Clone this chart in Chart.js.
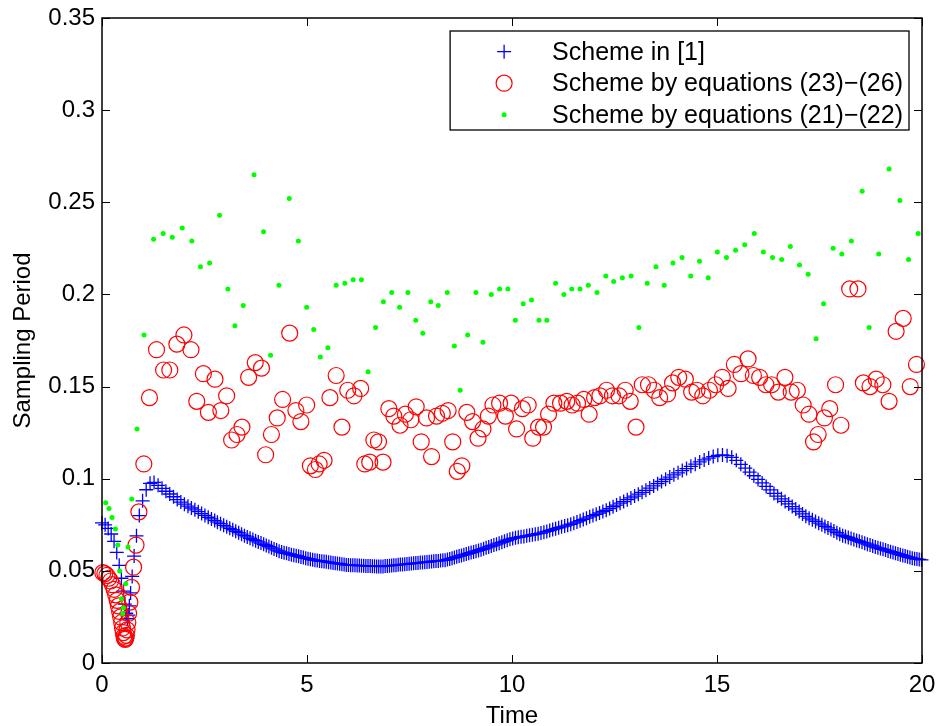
<!DOCTYPE html>
<html>
<head>
<meta charset="utf-8">
<script src="https://cdn.jsdelivr.net/npm/chart.js"></script>
<style>
  html, body { margin: 0; padding: 0; background: #fff; }
  #wrap { width: 937px; height: 726px; }
</style>
</head>
<body>
<div id="wrap"><canvas id="chart" width="937" height="726"></canvas></div>
<script>
// ─── DATA ────────────────────────────────────────────────────────────────
const seriesLabels = [
    'Scheme in [1]',
    'Scheme by equations (23)\u2212(26)',
    'Scheme by equations (21)\u2212(22)'
];
const xTicks = [0, 5, 10, 15, 20];
const xTickLabels = ['0', '5', '10', '15', '20'];
const yTicks = [0, 0.05, 0.1, 0.15, 0.2, 0.25, 0.3, 0.35];
const yTickLabels = ['0', '0.05', '0.1', '0.15', '0.2', '0.25', '0.3', '0.35'];

// Scheme in [1] (blue +)
const blueTime = [0,0.076,0.151,0.224,0.294,0.36,0.42,0.473,0.519,0.558,0.59,0.617,0.641,0.667,0.698,0.736,0.783,0.841,0.91,0.99,1.078,1.172,
    1.27,1.368,1.464,1.559,1.652,1.744,1.834,1.923,2.01,2.096,2.181,2.265,2.348,2.43,2.511,2.591,2.67,2.748,
    2.815,2.891,2.967,3.042,3.116,3.189,3.261,3.333,3.404,3.474,
    3.543,3.611,3.679,3.746,3.812,3.878,3.943,4.007,4.071,4.134,4.197,4.259,4.32,
    4.381,4.441,4.501,4.56,4.619,4.678,4.737,4.795,4.853,4.911,4.968,5.025,5.082,5.138,
    5.194,5.25,5.306,5.361,5.416,5.471,5.526,5.581,5.635,5.689,5.743,5.797,5.851,5.905,
    5.958,6.011,6.064,6.117,6.17,6.223,6.276,6.329,6.382,6.435,6.488,6.541,6.594,6.646,6.698,6.75,
    6.802,6.854,6.906,6.959,7.012,7.065,7.118,7.171,7.224,7.277,7.33,7.384,7.438,7.492,7.546,7.6,7.654,7.708,7.762,7.817,7.872,7.927,7.982,8.037,8.092,8.147,8.202,8.257,8.313,8.369,
    8.425,8.481,8.538,8.595,8.652,8.71,8.768,8.826,8.885,8.944,9.003,9.063,9.123,9.184,
    9.245,9.307,9.369,9.432,9.495,9.558,9.622,9.687,9.752,9.817,9.883,9.95,
    10.017,10.085,10.153,10.221,10.29,10.359,10.428,10.497,10.567,10.637,
    10.707,10.778,10.849,10.92,10.992,11.064,11.137,11.21,11.284,11.358,11.433,
    11.508,11.584,11.661,11.738,11.816,11.895,11.974,12.054,12.135,12.216,
    12.298,12.381,12.465,12.55,12.636,12.723,12.811,12.9,12.99,13.081,
    13.173,13.266,13.36,13.455,13.551,13.648,13.747,13.847,
    13.948,14.05,14.153,14.257,14.363,14.47,14.578,14.687,
    14.797,14.908,15.02,15.133,15.246,15.359,
    15.471,15.581,15.689,15.795,15.899,16.001,16.101,16.199,16.295,
    16.389,16.481,16.572,16.661,16.749,16.835,16.92,17.004,17.086,17.167,
    17.247,17.326,17.404,17.481,17.557,17.632,17.706,17.779,17.851,17.923,
    17.994,18.064,18.133,18.202,18.27,18.338,18.405,18.471,18.537,18.603,18.668,18.733,18.797,
    18.861,18.924,18.987,19.049,19.111,19.172,19.233,19.293,19.353,19.413,19.472,19.531,19.589,19.647,19.705,19.762,19.819,19.876,19.932,19.988];
const blueValue = [.076,.075,.073,.070,.066,.060,.053,.046,.039,.032,.027,.024,.026,.031,.038,.047,.058,.069,.080,.088,.094,.0975,
    .098,.0964,.0948,.0932,.0917,.0902,.0887,.0873,.0862,.0851,.0841,.0831,.0821,.0811,.0801,.0791,.0782,.0773,
    .0764,.0756,.0747,.0739,.0731,.0723,.0715,.0707,.0699,.0691,
    .0684,.0677,.0670,.0664,.0657,.0651,.0644,.0638,.0632,.0625,.0619,.0613,.0607,
    .0602,.0598,.0595,.0592,.0588,.0585,.0582,.0579,.0575,.0572,.0569,.0566,.0563,.0560,
    .0558,.0556,.0554,.0552,.0551,.0549,.0547,.0545,.0543,.0541,.0540,.0538,.0536,.0534,
    .0532,.0532,.0531,.0530,.0530,.0529,.0529,.0528,.0528,.0527,.0526,.0526,.0525,.0525,.0524,.0524,
    .0523,.0524,.0526,.0527,.0528,.0529,.0530,.0531,.0533,.0534,.0535,.0536,.0537,.0538,.0540,.0541,.0542,.0543,.0545,.0546,.0547,.0548,.0549,.0551,.0552,.0553,.0554,.0556,.0557,.0558,
    .0561,.0565,.0569,.0572,.0576,.0580,.0584,.0587,.0591,.0595,.0599,.0603,.0607,.0611,
    .0615,.0620,.0625,.0630,.0635,.0640,.0645,.0650,.0655,.0660,.0666,.0671,
    .0676,.0679,.0682,.0685,.0687,.0690,.0693,.0696,.0699,.0702,
    .0705,.0710,.0714,.0719,.0724,.0729,.0734,.0739,.0743,.0748,.0753,
    .0759,.0765,.0772,.0779,.0786,.0793,.0800,.0807,.0814,.0822,
    .0829,.0838,.0848,.0857,.0867,.0876,.0886,.0896,.0906,.0916,
    .0926,.0937,.0949,.0961,.0973,.0985,.0997,.1009,
    .1021,.1032,.1044,.1055,.1067,.1079,.1091,.1102,
    .1112,.1120,.1127,.1129,.1125,.1116,
    .1100,.1078,.1057,.1036,.1016,.0996,.0977,.0958,.0939,
    .0920,.0905,.0891,.0877,.0863,.0849,.0836,.0822,.0809,.0796,
    .0786,.0777,.0768,.0759,.0750,.0741,.0733,.0724,.0716,.0707,
    .0699,.0691,.0686,.0681,.0676,.0670,.0665,.0660,.0655,.0650,.0645,.0640,.0635,
    .0629,.0625,.0621,.0617,.0613,.0608,.0604,.0600,.0596,.0592,.0588,.0584,.0580,.0576,.0573,.0569,.0566,.0564,.0562,.0560];

// Scheme by equations (23)-(26) (red o)
const redTime = [0.02,0.07,0.12,0.165,0.21,0.255,0.295,0.335,0.37,0.40,0.43,0.455,0.48,0.50,0.52,0.535,0.55,0.565,0.58,0.595,0.61,0.63,0.65,0.68,0.72,0.77,0.83,0.90,1.02,
    1.158,1.33,1.502,1.654,1.826,1.998,2.17,2.311,2.473,2.595,
    2.756,2.898,3.04,3.161,3.293,3.414,3.576,3.738,3.89,3.991,
    4.132,4.274,4.405,4.578,4.729,4.851,4.992,5.083,5.205,5.296,
    5.417,5.559,5.711,5.852,5.994,6.146,6.308,6.409,6.53,6.631,
    6.743,6.854,6.996,7.117,7.269,7.4,7.532,7.663,7.785,7.916,
    8.038,8.159,8.301,8.442,8.554,8.665,8.776,8.898,9.039,9.171,
    9.292,9.424,9.535,9.697,9.839,9.98,10.112,10.253,10.395,10.506,
    10.648,10.769,10.891,11.022,11.184,11.336,11.467,11.599,11.751,11.882,
    12.014,12.145,12.307,12.449,12.611,12.762,12.884,13.025,13.177,13.329,
    13.47,13.602,13.794,13.916,14.067,14.229,14.381,14.512,14.654,14.816,
    14.968,15.129,15.271,15.423,15.585,15.757,15.888,16.04,16.192,16.333,
    16.495,16.657,16.809,16.961,17.102,17.244,17.355,17.467,17.619,17.75,
    17.892,18.023,18.236,18.438,18.57,18.732,18.883,19.045,19.197,19.369,
    19.541,19.713,19.865];
const redValue = [.049,.0485,.0475,.046,.0445,.0425,.040,.037,.034,.031,.028,.025,.022,.019,.0165,.0145,.0132,.0128,.0135,.015,.018,.022,.027,.033,.041,.052,.064,.082,.108,
    .144,.170,.159,.159,.173,.178,.170,.142,.157,.136,
    .154,.137,.145,.121,.124,.128,.155,.163,.160,.113,
    .124,.133,.143,.179,.137,.131,.140,.107,.105,.108,
    .110,.144,.156,.128,.148,.145,.149,.108,.109,.121,
    .120,.109,.138,.134,.129,.135,.132,.139,.120,.133,
    .112,.134,.1355,.137,.120,.104,.107,.136,.131,.122,
    .127,.134,.140,.141,.134,.141,.127,.138,.140,.122,
    .128,.128,.135,.141,.141,.142,.140,.141,.143,.135,
    .144,.145,.148,.145,.145,.148,.142,.128,.151,.151,
    .148,.144,.146,.152,.155,.154,.147,.148,.145,.148,
    .151,.155,.149,.162,.157,.165,.156,.155,.151,.151,
    .147,.155,.147,.148,.140,.135,.120,.124,.133,.138,
    .151,.129,.203,.203,.152,.150,.154,.151,.142,.180,
    .187,.150,.162];

// Scheme by equations (21)-(22) (green .)
const greenTime = [0.09,0.171,0.244,0.327,0.383,0.432,0.474,0.505,0.522,0.578,0.635,0.725,0.854,1.025,
    1.259,1.492,1.714,1.957,2.19,2.402,2.625,2.868,3.07,3.242,
    3.444,3.708,3.94,4.112,4.315,4.567,4.79,4.992,5.164,5.326,
    5.508,5.711,5.923,6.126,6.328,6.49,6.672,6.864,7.066,7.258,
    7.461,7.653,7.825,8.017,8.2,8.422,8.594,8.736,8.918,9.12,
    9.292,9.494,9.697,9.899,10.081,10.273,10.476,10.658,10.85,11.063,
    11.265,11.457,11.659,11.862,12.074,12.287,12.479,12.691,12.904,13.096,
    13.298,13.511,13.713,13.926,14.148,14.36,14.573,14.785,15.008,15.231,
    15.453,15.676,15.909,16.131,16.354,16.577,16.789,17.012,17.224,17.416,
    17.599,17.831,18.044,18.277,18.54,18.711,18.944,19.197,19.46,19.672,
    19.905];
const greenValue = [.087,.0839,.079,.0727,.064,.0499,.0349,.0269,.030,.043,.0629,.089,.127,.178,
    .230,.233,.231,.236,.229,.215,.217,.243,.203,.183,
    .194,.265,.234,.167,.205,.252,.229,.193,.181,.166,
    .171,.205,.206,.208,.208,.158,.182,.196,.201,.193,
    .201,.186,.179,.196,.194,.201,.172,.148,.178,.201,
    .174,.200,.203,.203,.186,.195,.197,.186,.186,.206,
    .200,.203,.203,.205,.201,.210,.207,.209,.210,.182,
    .206,.215,.205,.217,.220,.210,.218,.209,.223,.220,
    .224,.227,.233,.223,.220,.219,.226,.216,.211,.176,
    .195,.225,.222,.229,.256,.182,.222,.268,.251,.219,
    .233];

// ─── STYLE ───────────────────────────────────────────────────────────────
const FONT = "'Liberation Sans', Arial, Helvetica, sans-serif";
Chart.defaults.font.family = FONT;
Chart.defaults.color = '#000';

function toPoints(ts, vs) {
    return ts.map((t, i) => ({ x: t, y: vs[i] }));
}

// petit marqueur façon matlab (pour la légende)
function drawMarker(ctx, ds, x, y) {
    ctx.save();
    ctx.strokeStyle = ds.borderColor;
    ctx.fillStyle = ds.backgroundColor;
    ctx.lineWidth = ds.borderWidth || 1;
    const r = ds.pointRadius;
    ctx.beginPath();
    if (ds.pointStyle === 'cross') {
        ctx.moveTo(x - r, y); ctx.lineTo(x + r, y);
        ctx.moveTo(x, y - r); ctx.lineTo(x, y + r);
        ctx.stroke();
    } else {
        ctx.arc(x, y, r, 0, Math.PI * 2);
        ctx.fill();
        if (ds.borderWidth > 0) ctx.stroke();
    }
    ctx.restore();
}

// cadre + graduations intérieures + légende encadrée
const axesBox = {
    id: 'axesBox',
    afterDraw(chart) {
        const { ctx, chartArea: a } = chart;
        const sx = chart.scales.x, sy = chart.scales.y;
        ctx.save();
        ctx.strokeStyle = '#000';
        ctx.lineWidth = 1;
        ctx.beginPath();
        xTicks.forEach(v => {
            const p = Math.round(sx.getPixelForValue(v)) + 0.5;
            ctx.moveTo(p, a.bottom); ctx.lineTo(p, a.bottom - 8);
            ctx.moveTo(p, a.top); ctx.lineTo(p, a.top + 8);
        });
        yTicks.forEach(v => {
            const p = Math.round(sy.getPixelForValue(v)) + 0.5;
            ctx.moveTo(a.left, p); ctx.lineTo(a.left + 8, p);
            ctx.moveTo(a.right, p); ctx.lineTo(a.right - 8, p);
        });
        ctx.stroke();
        ctx.lineWidth = 1.5;
        ctx.strokeRect(a.left, a.top, a.right - a.left, a.bottom - a.top);

        // légende
        ctx.font = '25px ' + FONT;
        const textW = Math.max(...seriesLabels.map(s => ctx.measureText(s).width));
        const boxW = 102 + textW + 6, boxH = 99;
        const bx = a.right - 13 - boxW, by = a.top + 13;
        ctx.fillStyle = '#fff';
        ctx.fillRect(bx, by, boxW, boxH);
        ctx.lineWidth = 1.3;
        ctx.strokeStyle = '#000';
        ctx.strokeRect(bx, by, boxW, boxH);
        chart.data.datasets.forEach((ds, i) => {
            const cy = by + 20.7 + i * 31.5;
            drawMarker(ctx, ds, bx + 54, cy);
            ctx.fillStyle = '#000';
            ctx.textAlign = 'left';
            ctx.textBaseline = 'middle';
            ctx.fillText(ds.label, bx + 102, cy + 1);
        });
        ctx.restore();
    }
};

const ctx = document.getElementById('chart').getContext('2d');
new Chart(ctx, {
    type: 'scatter',
    data: {
        datasets: [{
            label: seriesLabels[0],
            data: toPoints(blueTime, blueValue),
            pointStyle: 'cross',
            pointRadius: 7,
            borderColor: '#0000ff',
            backgroundColor: '#0000ff',
            borderWidth: 1.3,
            order: 3,
            clip: false
        }, {
            label: seriesLabels[1],
            data: toPoints(redTime, redValue),
            pointStyle: 'circle',
            pointRadius: 8,
            borderColor: '#ff0000',
            backgroundColor: 'rgba(0,0,0,0)',
            borderWidth: 1.2,
            order: 2,
            clip: false
        }, {
            label: seriesLabels[2],
            data: toPoints(greenTime, greenValue),
            pointStyle: 'circle',
            pointRadius: 2.5,
            borderColor: '#00ff00',
            backgroundColor: '#00ff00',
            borderWidth: 0,
            order: 1,
            clip: false
        }]
    },
    options: {
        responsive: false,
        animation: false,
        devicePixelRatio: 1,
        layout: { padding: { left: 0, top: 18, right: 15, bottom: 0 } },
        plugins: {
            legend: { display: false },
            tooltip: { enabled: false }
        },
        scales: {
            x: {
                type: 'linear',
                min: 0, max: 20,
                afterFit: s => { s.height = 63; s.paddingLeft = 0; s.paddingRight = 0; },
                afterBuildTicks: s => { s.ticks = xTicks.map(v => ({ value: v })); },
                grid: { display: false, drawTicks: false },
                border: { display: false },
                ticks: {
                    padding: 8,
                    maxRotation: 0,
                    font: { size: 24 },
                    callback: (v, i) => xTickLabels[i]
                },
                title: { display: true, text: 'Time', font: { size: 24 }, padding: { top: 0, bottom: -5 } }
            },
            y: {
                type: 'linear',
                min: 0, max: 0.35,
                afterFit: s => { s.width = 102; s.paddingTop = 0; s.paddingBottom = 0; },
                afterBuildTicks: s => { s.ticks = yTicks.map(v => ({ value: v })); },
                grid: { display: false, drawTicks: false },
                border: { display: false },
                ticks: {
                    padding: 7,
                    font: { size: 24 },
                    callback: (v, i) => yTickLabels[i]
                },
                title: { display: true, text: 'Sampling Period', font: { size: 24 }, padding: { top: 9, bottom: 0 } }
            }
        }
    },
    plugins: [axesBox]
});
</script>
</body>
</html>
